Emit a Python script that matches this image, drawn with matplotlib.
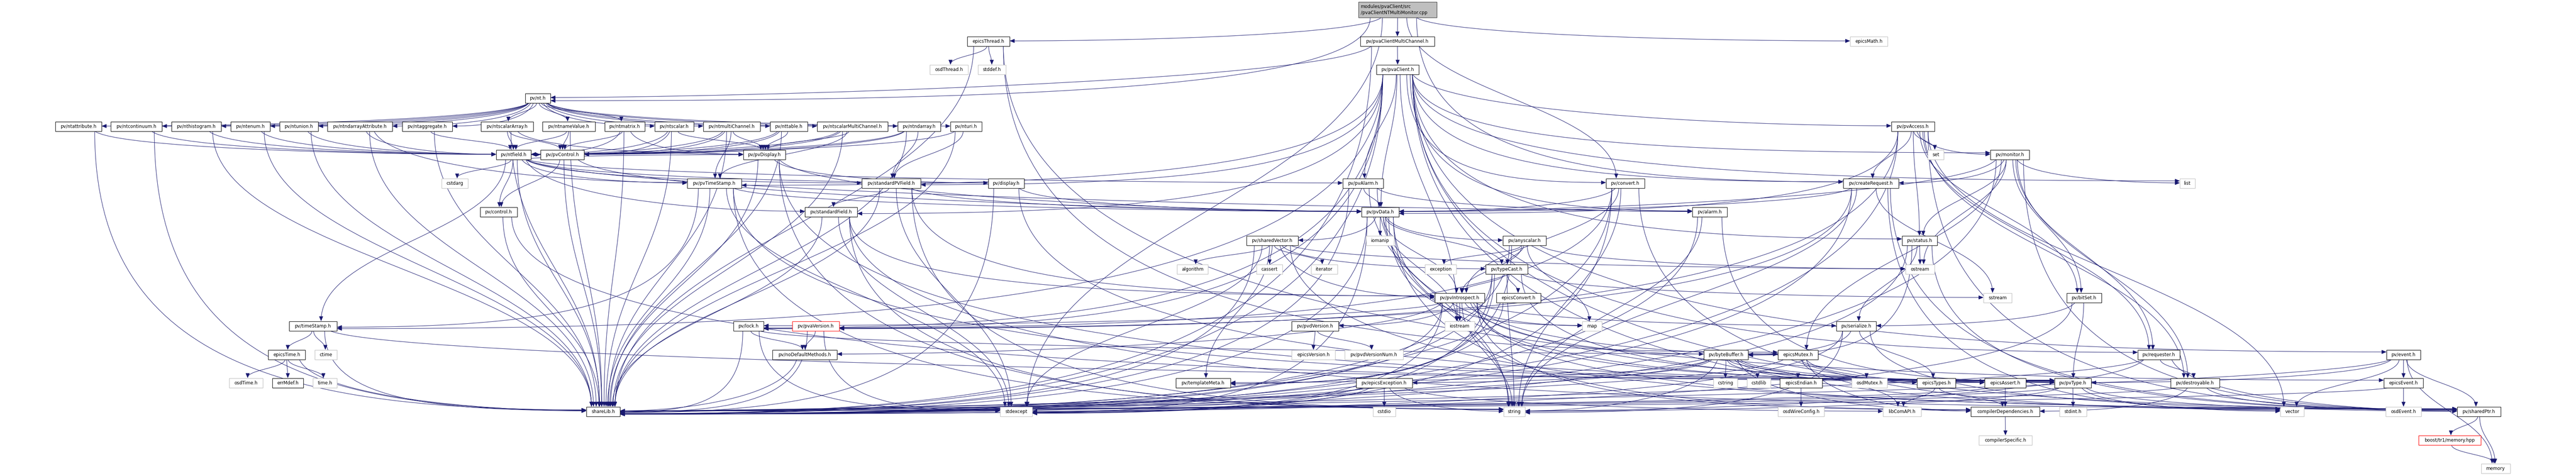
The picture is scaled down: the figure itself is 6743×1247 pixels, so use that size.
#!/usr/bin/env python3
import matplotlib
matplotlib.use('Agg')
import matplotlib.pyplot as plt
from matplotlib.patches import Rectangle, FancyArrowPatch
from matplotlib.path import Path
import numpy as np

W, H = 6743, 1247
EDGE_COLOR = '#191970'

ROOT = 'modules/pvaClient/src\n/pvaClientNTMultiMonitor.cpp'

# nt headers pulled in by pv/nt.h
NT_HEADERS = ['pv/ntattribute.h', 'pv/ntcontinuum.h', 'pv/nthistogram.h', 'pv/ntenum.h',
              'pv/ntunion.h', 'pv/ntndarrayAttribute.h', 'pv/ntaggregate.h', 'pv/ntscalarArray.h',
              'pv/ntnameValue.h', 'pv/ntmatrix.h', 'pv/ntscalar.h', 'pv/ntmultiChannel.h',
              'pv/nttable.h', 'pv/ntscalarMultiChannel.h', 'pv/ntndarray.h', 'pv/nturi.h']

# headers that are not documented (grey frame) / missing (red frame)
SYSTEM = ['osdThread.h', 'stddef.h', 'epicsMath.h', 'set', 'cstdarg', 'list', 'iomanip',
          'algorithm', 'cassert', 'iterator', 'exception', 'ostream', 'sstream', 'iostream',
          'map', 'ctime', 'epicsVersion.h', 'pv/pvdVersionNum.h', 'osdTime.h', 'time.h',
          'cstring', 'cstdlib', 'osdMutex.h', 'stdexcept', 'cstdio', 'string', 'osdWireConfig.h',
          'libComAPI.h', 'stdint.h', 'vector', 'osdEvent.h', 'compilerSpecific.h', 'memory']
MISSING = ['pv/pvaVersion.h', 'boost/tr1/memory.hpp']

EDGES = {
    ROOT: ['epicsThread.h', 'pv/pvaClientMultiChannel.h', 'epicsMath.h', 'pv/createRequest.h',
           'pv/convert.h', 'stdexcept', 'pv/nt.h'],
    'epicsThread.h': ['osdThread.h', 'stddef.h', 'shareLib.h', 'epicsEvent.h', 'epicsMutex.h'],
    'pv/pvaClientMultiChannel.h': ['pv/pvaClient.h', 'pv/nt.h', 'shareLib.h'],
    'pv/pvaClient.h': ['list', 'iostream', 'pv/requester.h', 'pv/status.h', 'pv/event.h',
                       'pv/lock.h', 'pv/pvData.h', 'pv/createRequest.h', 'pv/pvTimeStamp.h',
                       'pv/timeStamp.h', 'pv/pvAlarm.h', 'pv/alarm.h', 'pv/pvAccess.h',
                       'pv/standardField.h', 'pv/standardPVField.h', 'pv/convert.h',
                       'pv/pvaVersion.h', 'shareLib.h', 'vector', 'pv/sharedPtr.h', 'pv/monitor.h'],
    'pv/nt.h': NT_HEADERS,
    'pv/ntattribute.h': ['pv/ntfield.h', 'shareLib.h'],
    'pv/ntcontinuum.h': ['pv/ntfield.h', 'shareLib.h'],
    'pv/nthistogram.h': ['pv/ntfield.h', 'shareLib.h'],
    'pv/ntenum.h': ['pv/ntfield.h', 'shareLib.h'],
    'pv/ntunion.h': ['pv/ntfield.h', 'shareLib.h'],
    'pv/ntndarrayAttribute.h': ['pv/ntfield.h', 'shareLib.h', 'pv/pvTimeStamp.h'],
    'pv/ntaggregate.h': ['pv/ntfield.h', 'shareLib.h'],
    'pv/ntscalarArray.h': ['pv/ntfield.h', 'shareLib.h', 'pv/pvDisplay.h', 'pv/pvControl.h'],
    'pv/ntnameValue.h': ['pv/ntfield.h', 'shareLib.h', 'pv/pvControl.h'],
    'pv/ntmatrix.h': ['pv/ntfield.h', 'shareLib.h', 'pv/pvDisplay.h', 'pv/pvControl.h'],
    'pv/ntscalar.h': ['pv/ntfield.h', 'shareLib.h', 'pv/pvDisplay.h', 'pv/pvControl.h'],
    'pv/ntmultiChannel.h': ['pv/ntfield.h', 'shareLib.h', 'pv/pvDisplay.h', 'pv/pvControl.h',
                            'pv/pvTimeStamp.h'],
    'pv/nttable.h': ['pv/ntfield.h', 'shareLib.h', 'pv/pvDisplay.h', 'pv/pvControl.h'],
    'pv/ntscalarMultiChannel.h': ['pv/ntfield.h', 'shareLib.h', 'pv/pvDisplay.h',
                                  'pv/pvControl.h', 'pv/pvTimeStamp.h'],
    'pv/ntndarray.h': ['pv/ntfield.h', 'shareLib.h', 'pv/pvControl.h', 'pv/standardPVField.h'],
    'pv/nturi.h': ['pv/ntfield.h', 'shareLib.h', 'pv/standardPVField.h'],
    'pv/ntfield.h': ['cstdarg', 'pv/standardField.h', 'pv/standardPVField.h', 'pv/alarm.h',
                     'pv/pvAlarm.h', 'pv/timeStamp.h', 'pv/pvTimeStamp.h', 'pv/display.h',
                     'pv/pvDisplay.h', 'pv/control.h', 'pv/pvControl.h', 'shareLib.h'],
    'pv/pvControl.h': ['pv/pvData.h', 'pv/control.h', 'shareLib.h'],
    'pv/control.h': ['pv/pvType.h', 'shareLib.h'],
    'pv/pvDisplay.h': ['string', 'pv/pvType.h', 'pv/pvData.h', 'pv/display.h', 'shareLib.h'],
    'pv/display.h': ['pv/pvType.h', 'pv/pvData.h', 'shareLib.h'],
    'pv/pvTimeStamp.h': ['string', 'stdexcept', 'pv/pvType.h', 'pv/timeStamp.h',
                         'pv/pvData.h', 'shareLib.h'],
    'pv/timeStamp.h': ['ctime', 'epicsTime.h', 'pv/pvType.h', 'shareLib.h'],
    'epicsTime.h': ['osdTime.h', 'errMdef.h', 'time.h', 'shareLib.h'],
    'pv/standardPVField.h': ['string', 'stdexcept', 'pv/pvIntrospect.h', 'pv/pvData.h',
                             'pv/standardField.h', 'shareLib.h'],
    'pv/standardField.h': ['string', 'stdexcept', 'pv/pvIntrospect.h', 'pv/sharedPtr.h',
                           'shareLib.h'],
    'pv/pvAlarm.h': ['string', 'pv/pvType.h', 'pv/alarm.h', 'pv/pvData.h', 'shareLib.h'],
    'pv/alarm.h': ['string', 'pv/pvType.h', 'shareLib.h'],
    'pv/pvData.h': ['string', 'map', 'stdexcept', 'iostream', 'iomanip', 'epicsAssert.h',
                    'pv/pvIntrospect.h', 'pv/typeCast.h', 'pv/anyscalar.h', 'pv/sharedVector.h',
                    'shareLib.h', 'compilerDependencies.h'],
    'pv/pvIntrospect.h': ['string', 'map', 'iostream', 'stdexcept', 'epicsMutex.h', 'pv/lock.h',
                          'pv/noDefaultMethods.h', 'pv/pvType.h', 'pv/byteBuffer.h',
                          'pv/serialize.h', 'pv/pvdVersion.h', 'pv/sharedPtr.h', 'shareLib.h',
                          'compilerDependencies.h'],
    'pv/typeCast.h': ['string', 'stdexcept', 'sstream', 'epicsConvert.h', 'pv/pvType.h',
                      'pv/pvIntrospect.h', 'pv/templateMeta.h', 'shareLib.h'],
    'epicsConvert.h': ['shareLib.h'],
    'pv/anyscalar.h': ['ostream', 'exception', 'map', 'pv/templateMeta.h', 'pv/typeCast.h',
                       'pv/pvIntrospect.h', 'shareLib.h'],
    'pv/sharedVector.h': ['ostream', 'algorithm', 'stdexcept', 'iterator', 'cassert',
                          'pv/sharedPtr.h', 'pv/pvIntrospect.h', 'pv/typeCast.h',
                          'pv/templateMeta.h', 'shareLib.h'],
    'pv/status.h': ['ostream', 'pv/serialize.h', 'pv/byteBuffer.h', 'pv/sharedPtr.h',
                    'shareLib.h'],
    'pv/serialize.h': ['string', 'pv/byteBuffer.h', 'epicsTypes.h', 'pv/sharedPtr.h',
                       'shareLib.h'],
    'pv/byteBuffer.h': ['string', 'cstring', 'cstdlib', 'epicsEndian.h', 'epicsTypes.h',
                        'epicsAssert.h', 'compilerDependencies.h', 'pv/pvType.h',
                        'pv/epicsException.h', 'pv/templateMeta.h', 'shareLib.h'],
    'epicsEndian.h': ['osdWireConfig.h'],
    'epicsMutex.h': ['epicsAssert.h', 'compilerDependencies.h', 'osdMutex.h', 'shareLib.h',
                     'libComAPI.h'],
    'epicsTypes.h': ['compilerDependencies.h', 'libComAPI.h'],
    'epicsAssert.h': ['compilerDependencies.h', 'shareLib.h'],
    'compilerDependencies.h': ['compilerSpecific.h'],
    'pv/pvType.h': ['string', 'stdint.h', 'vector', 'pv/sharedPtr.h', 'shareLib.h'],
    'pv/lock.h': ['stdexcept', 'epicsMutex.h', 'pv/noDefaultMethods.h', 'shareLib.h'],
    'pv/noDefaultMethods.h': ['shareLib.h'],
    'pv/pvaVersion.h': ['pv/noDefaultMethods.h', 'shareLib.h', 'stdexcept'],
    'pv/pvdVersion.h': ['epicsVersion.h', 'pv/pvdVersionNum.h'],
    'pv/epicsException.h': ['cstdio', 'string', 'stdexcept', 'shareLib.h', 'libComAPI.h'],
    'pv/requester.h': ['string', 'pv/sharedPtr.h', 'pv/destroyable.h', 'shareLib.h'],
    'pv/destroyable.h': ['pv/sharedPtr.h', 'compilerDependencies.h', 'shareLib.h'],
    'pv/event.h': ['vector', 'epicsEvent.h', 'pv/sharedPtr.h', 'memory', 'shareLib.h',
                   'pv/pvType.h'],
    'epicsEvent.h': ['osdEvent.h', 'shareLib.h'],
    'pv/sharedPtr.h': ['boost/tr1/memory.hpp', 'memory'],
    'boost/tr1/memory.hpp': ['memory'],
    'pv/bitSet.h': ['pv/pvType.h', 'pv/serialize.h', 'shareLib.h'],
    'pv/monitor.h': ['list', 'ostream', 'pv/status.h', 'pv/pvData.h', 'pv/sharedPtr.h',
                     'pv/bitSet.h', 'pv/createRequest.h', 'pv/requester.h', 'pv/destroyable.h',
                     'epicsMutex.h', 'shareLib.h'],
    'pv/pvAccess.h': ['set', 'pv/monitor.h', 'pv/createRequest.h', 'pv/pvData.h', 'pv/status.h',
                      'pv/destroyable.h', 'pv/requester.h', 'pv/bitSet.h', 'pv/pvaVersion.h',
                      'shareLib.h', 'vector', 'pv/sharedPtr.h'],
    'pv/createRequest.h': ['string', 'sstream', 'vector', 'pv/pvData.h', 'pv/lock.h',
                           'pv/sharedPtr.h', 'shareLib.h'],
    'pv/convert.h': ['string', 'stdexcept', 'vector', 'pv/pvIntrospect.h', 'pv/pvData.h',
                     'pv/lock.h', 'shareLib.h'],
}

# layout: node -> (centre x, centre y, box width) in pixels
LAYOUT = {
    ROOT: (3658.5, 25.5, 205),
    'epicsThread.h': (2587.5, 108, 111), 'pv/pvaClientMultiChannel.h': (3658, 108, 194),
    'epicsMath.h': (4892, 108, 98),
    'osdThread.h': (2484, 182, 100), 'stddef.h': (2596.5, 182, 73), 'pv/pvaClient.h': (3658.5, 182, 111),
    'pv/nt.h': (1408, 257, 66),
    'pv/ntattribute.h': (205.5, 331, 121), 'pv/ntcontinuum.h': (357, 331, 134),
    'pv/nthistogram.h': (514, 331, 130), 'pv/ntenum.h': (655.5, 331, 103),
    'pv/ntunion.h': (782.5, 331, 101), 'pv/ntndarrayAttribute.h': (942, 331, 170),
    'pv/ntaggregate.h': (1118.5, 331, 131), 'pv/ntscalarArray.h': (1327.5, 331, 137),
    'pv/ntnameValue.h': (1489, 331, 138), 'pv/ntmatrix.h': (1635.5, 331, 105),
    'pv/ntscalar.h': (1765, 331, 102), 'pv/ntmultiChannel.h': (1915.5, 331, 149),
    'pv/nttable.h': (2065, 331, 98), 'pv/ntscalarMultiChannel.h': (2231.5, 331, 185),
    'pv/ntndarray.h': (2406, 331, 112), 'pv/nturi.h': (2529, 331, 82),
    'pv/pvAccess.h': (5007.5, 331, 113),
    'pv/ntfield.h': (1344.5, 405, 91), 'pv/pvControl.h': (1472, 405, 114),
    'pv/pvDisplay.h': (2001, 405, 110), 'set': (5067, 405, 42), 'pv/monitor.h': (5261, 405, 102),
    'cstdarg': (1190.5, 480, 69), 'pv/pvTimeStamp.h': (1870, 480, 142),
    'pv/standardPVField.h': (2333, 480, 154), 'pv/display.h': (2634, 480, 94),
    'pv/pvAlarm.h': (3568, 480, 106), 'pv/convert.h': (4254.5, 480, 101),
    'pv/createRequest.h': (4897.5, 480, 145), 'list': (5726, 480, 40),
    'pv/control.h': (1305.5, 555, 97), 'pv/standardField.h': (2175.5, 555, 137),
    'pv/pvData.h': (3613, 555, 98), 'pv/alarm.h': (4475.5, 555, 91),
    'pv/sharedVector.h': (3330.5, 630, 135), 'iomanip': (3612.5, 630, 73),
    'pv/anyscalar.h': (3990.5, 630, 113), 'pv/status.h': (5025, 630, 92),
    'algorithm': (3121.5, 705, 81), 'cassert': (3323, 705, 68), 'iterator': (3466.5, 705, 69),
    'exception': (3771, 705, 82), 'pv/typeCast.h': (3944, 705, 110), 'ostream': (5026, 705, 76),
    'pv/pvIntrospect.h': (3821, 780, 130), 'epicsConvert.h': (3975, 780, 116),
    'sstream': (5229, 780, 74), 'pv/bitSet.h': (5455.5, 780, 91),
    'pv/timeStamp.h': (819.5, 854, 125), 'pv/lock.h': (1959.5, 854, 79),
    'pv/pvaVersion.h': (2135.5, 854, 123), 'pv/pvdVersion.h': (3442.5, 854, 123),
    'iostream': (3821, 854, 78), 'map': (4167.5, 854, 51), 'pv/serialize.h': (4859, 854, 104),
    'epicsTime.h': (750.5, 929, 97), 'ctime': (853, 929, 58),
    'pv/noDefaultMethods.h': (2106.5, 929, 169), 'epicsVersion.h': (3438, 929, 114),
    'pv/pvdVersionNum.h': (3596.5, 929, 153), 'pv/byteBuffer.h': (4518, 929, 116),
    'epicsMutex.h': (4706.5, 929, 105), 'pv/requester.h': (5651, 929, 110),
    'pv/event.h': (6291.5, 929, 89),
    'osdTime.h': (644, 1003, 88), 'errMdef.h': (753.5, 1003, 81), 'time.h': (850.5, 1003, 63),
    'pv/templateMeta.h': (3149.5, 1003, 143), 'pv/epicsException.h': (3623.5, 1003, 147),
    'cstring': (4516.5, 1003, 63), 'cstdlib': (4604, 1003, 62), 'epicsEndian.h': (4714.5, 1003, 111),
    'osdMutex.h': (4893.5, 1003, 93), 'epicsTypes.h': (5068.5, 1003, 101),
    'epicsAssert.h': (5249, 1003, 108), 'pv/pvType.h': (5426, 1003, 96),
    'pv/destroyable.h': (5746, 1003, 128), 'epicsEvent.h': (6291.5, 1003, 103),
    'shareLib.h': (1579, 1078, 88), 'stdexcept': (2660, 1078, 84), 'cstdio': (3623.5, 1078, 59),
    'string': (3964, 1078, 56), 'osdWireConfig.h': (4714.5, 1078, 121),
    'libComAPI.h': (4979, 1078, 100), 'compilerDependencies.h': (5249, 1078, 180),
    'stdint.h': (5426.5, 1078, 71), 'vector': (6000, 1078, 62), 'osdEvent.h': (6291.5, 1078, 93),
    'pv/sharedPtr.h': (6489, 1078, 114),
    'compilerSpecific.h': (5249.5, 1153, 139), 'boost/tr1/memory.hpp': (6412.5, 1153, 163),
    'memory': (6533, 1227, 76),
}


def box_h(name):
    return 41 if name == ROOT else 25


def edge_path(src, dst):
    sx, sy, sw = LAYOUT[src]
    tx, ty, tw = LAYOUT[dst]
    sh, th = box_h(src), box_h(dst)
    dx, dy = tx - sx, ty - sy
    offs = np.clip(dx * 0.04, -0.35 * sw, 0.35 * sw)
    p0 = (sx + offs, sy + sh / 2)
    if abs(dx) > 1.6 * dy and dy > 150:
        # long edge that drops first and then runs into the side of the target
        sgn = 1 if dx > 0 else -1
        p3 = (tx - sgn * tw / 2, ty + np.clip(-dx * 0.003, -7, 7))
        c1 = (p0[0], p0[1] + 0.85 * (p3[1] - p0[1]))
        c2 = (p3[0] - sgn * 0.55 * abs(dx), p3[1])
    elif abs(dx) > 3.2 * dy:
        # flat edge: come into the side of the target
        sgn = 1 if dx > 0 else -1
        p3 = (tx - sgn * tw / 2, ty + np.clip(-dy * 0.01, -6, 6))
        c1 = (p0[0] + dx * 0.05, p0[1] + 0.7 * (p3[1] - p0[1]))
        c2 = (p3[0] - sgn * min(0.35 * abs(dx), 450), p3[1])
    else:
        offt = np.clip(-dx * 0.04, -0.35 * tw, 0.35 * tw)
        p3 = (tx + offt, ty - th / 2)
        k = 0.45 * (p3[1] - p0[1])
        c1 = (p0[0], p0[1] + k)
        c2 = (p3[0], p3[1] - k)
    return Path([p0, c1, c2, p3], [Path.MOVETO, Path.CURVE4, Path.CURVE4, Path.CURVE4])


def main():
    fig = plt.figure(figsize=(W / 100, H / 100), dpi=100)
    ax = fig.add_axes([0, 0, 1, 1])
    ax.set_xlim(0, W)
    ax.set_ylim(H, 0)
    ax.axis('off')

    for src, targets in EDGES.items():
        for dst in targets:
            arr = FancyArrowPatch(path=edge_path(src, dst),
                                  arrowstyle='-|>,head_length=0.6,head_width=0.25',
                                  mutation_scale=13, color=EDGE_COLOR, lw=0.8, zorder=1)
            ax.add_patch(arr)

    for name, (cx, cy, w) in LAYOUT.items():
        h = box_h(name)
        if name == ROOT:
            fc, ec = '#bfbfbf', '#404040'
        elif name in MISSING:
            fc, ec = 'white', '#ff0000'
        elif name in SYSTEM:
            fc, ec = 'white', '#bfbfbf'
        else:
            fc, ec = 'white', 'black'
        ax.add_patch(Rectangle((cx - w / 2, cy - h / 2), w, h, facecolor=fc,
                               edgecolor=ec, lw=0.9, zorder=3))
        if name == ROOT:
            ax.text(cx - w / 2 + 6, cy, name, ha='left', va='center', fontsize=8.5,
                    family='DejaVu Sans', linespacing=1.25, zorder=4)
        else:
            ax.text(cx, cy + 0.5, name, ha='center', va='center', fontsize=8.5,
                    family='DejaVu Sans', zorder=4)

    fig.savefig('out.png', dpi=100, facecolor='white')


if __name__ == "__main__":
    main()
